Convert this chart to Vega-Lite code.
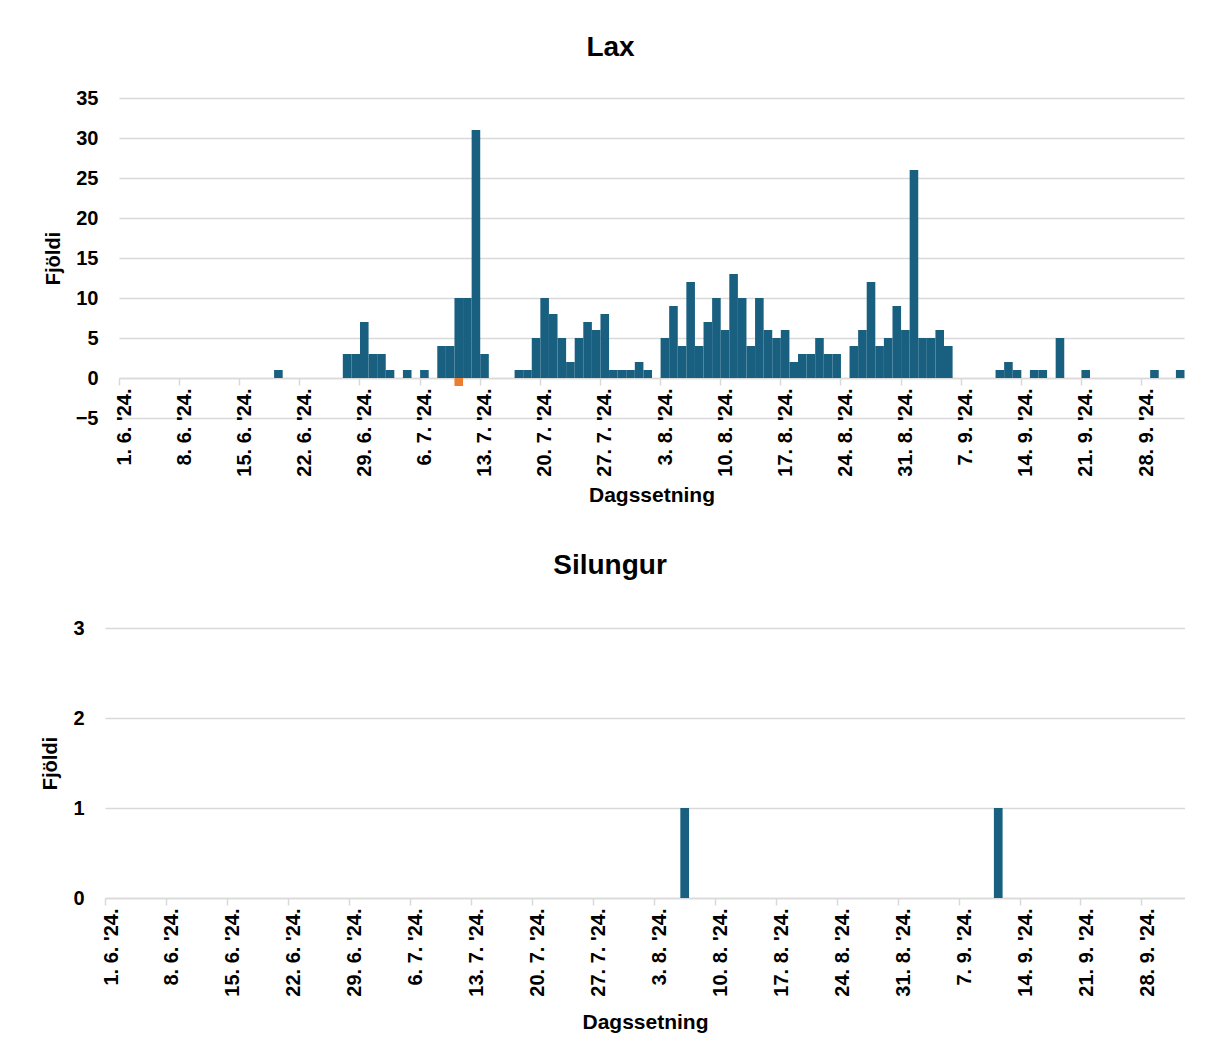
{
  "$schema": "https://vega.github.io/schema/vega-lite/v6.json",
  "background": "white",
  "autosize": {"type": "pad"},
  "padding": {"left": 40, "top": 34, "right": 0, "bottom": 0},
  "datasets": {
    "lax": [
      {"dags": "2024/06/19", "fjoldi": 1, "flokkur": "skráning"},
      {"dags": "2024/06/27", "fjoldi": 3, "flokkur": "skráning"},
      {"dags": "2024/06/28", "fjoldi": 3, "flokkur": "skráning"},
      {"dags": "2024/06/29", "fjoldi": 7, "flokkur": "skráning"},
      {"dags": "2024/06/30", "fjoldi": 3, "flokkur": "skráning"},
      {"dags": "2024/07/01", "fjoldi": 3, "flokkur": "skráning"},
      {"dags": "2024/07/02", "fjoldi": 1, "flokkur": "skráning"},
      {"dags": "2024/07/04", "fjoldi": 1, "flokkur": "skráning"},
      {"dags": "2024/07/06", "fjoldi": 1, "flokkur": "skráning"},
      {"dags": "2024/07/08", "fjoldi": 4, "flokkur": "skráning"},
      {"dags": "2024/07/09", "fjoldi": 4, "flokkur": "skráning"},
      {"dags": "2024/07/10", "fjoldi": 10, "flokkur": "skráning"},
      {"dags": "2024/07/10", "fjoldi": -1, "flokkur": "leiðrétting"},
      {"dags": "2024/07/11", "fjoldi": 10, "flokkur": "skráning"},
      {"dags": "2024/07/12", "fjoldi": 31, "flokkur": "skráning"},
      {"dags": "2024/07/13", "fjoldi": 3, "flokkur": "skráning"},
      {"dags": "2024/07/17", "fjoldi": 1, "flokkur": "skráning"},
      {"dags": "2024/07/18", "fjoldi": 1, "flokkur": "skráning"},
      {"dags": "2024/07/19", "fjoldi": 5, "flokkur": "skráning"},
      {"dags": "2024/07/20", "fjoldi": 10, "flokkur": "skráning"},
      {"dags": "2024/07/21", "fjoldi": 8, "flokkur": "skráning"},
      {"dags": "2024/07/22", "fjoldi": 5, "flokkur": "skráning"},
      {"dags": "2024/07/23", "fjoldi": 2, "flokkur": "skráning"},
      {"dags": "2024/07/24", "fjoldi": 5, "flokkur": "skráning"},
      {"dags": "2024/07/25", "fjoldi": 7, "flokkur": "skráning"},
      {"dags": "2024/07/26", "fjoldi": 6, "flokkur": "skráning"},
      {"dags": "2024/07/27", "fjoldi": 8, "flokkur": "skráning"},
      {"dags": "2024/07/28", "fjoldi": 1, "flokkur": "skráning"},
      {"dags": "2024/07/29", "fjoldi": 1, "flokkur": "skráning"},
      {"dags": "2024/07/30", "fjoldi": 1, "flokkur": "skráning"},
      {"dags": "2024/07/31", "fjoldi": 2, "flokkur": "skráning"},
      {"dags": "2024/08/01", "fjoldi": 1, "flokkur": "skráning"},
      {"dags": "2024/08/03", "fjoldi": 5, "flokkur": "skráning"},
      {"dags": "2024/08/04", "fjoldi": 9, "flokkur": "skráning"},
      {"dags": "2024/08/05", "fjoldi": 4, "flokkur": "skráning"},
      {"dags": "2024/08/06", "fjoldi": 12, "flokkur": "skráning"},
      {"dags": "2024/08/07", "fjoldi": 4, "flokkur": "skráning"},
      {"dags": "2024/08/08", "fjoldi": 7, "flokkur": "skráning"},
      {"dags": "2024/08/09", "fjoldi": 10, "flokkur": "skráning"},
      {"dags": "2024/08/10", "fjoldi": 6, "flokkur": "skráning"},
      {"dags": "2024/08/11", "fjoldi": 13, "flokkur": "skráning"},
      {"dags": "2024/08/12", "fjoldi": 10, "flokkur": "skráning"},
      {"dags": "2024/08/13", "fjoldi": 4, "flokkur": "skráning"},
      {"dags": "2024/08/14", "fjoldi": 10, "flokkur": "skráning"},
      {"dags": "2024/08/15", "fjoldi": 6, "flokkur": "skráning"},
      {"dags": "2024/08/16", "fjoldi": 5, "flokkur": "skráning"},
      {"dags": "2024/08/17", "fjoldi": 6, "flokkur": "skráning"},
      {"dags": "2024/08/18", "fjoldi": 2, "flokkur": "skráning"},
      {"dags": "2024/08/19", "fjoldi": 3, "flokkur": "skráning"},
      {"dags": "2024/08/20", "fjoldi": 3, "flokkur": "skráning"},
      {"dags": "2024/08/21", "fjoldi": 5, "flokkur": "skráning"},
      {"dags": "2024/08/22", "fjoldi": 3, "flokkur": "skráning"},
      {"dags": "2024/08/23", "fjoldi": 3, "flokkur": "skráning"},
      {"dags": "2024/08/25", "fjoldi": 4, "flokkur": "skráning"},
      {"dags": "2024/08/26", "fjoldi": 6, "flokkur": "skráning"},
      {"dags": "2024/08/27", "fjoldi": 12, "flokkur": "skráning"},
      {"dags": "2024/08/28", "fjoldi": 4, "flokkur": "skráning"},
      {"dags": "2024/08/29", "fjoldi": 5, "flokkur": "skráning"},
      {"dags": "2024/08/30", "fjoldi": 9, "flokkur": "skráning"},
      {"dags": "2024/08/31", "fjoldi": 6, "flokkur": "skráning"},
      {"dags": "2024/09/01", "fjoldi": 26, "flokkur": "skráning"},
      {"dags": "2024/09/02", "fjoldi": 5, "flokkur": "skráning"},
      {"dags": "2024/09/03", "fjoldi": 5, "flokkur": "skráning"},
      {"dags": "2024/09/04", "fjoldi": 6, "flokkur": "skráning"},
      {"dags": "2024/09/05", "fjoldi": 4, "flokkur": "skráning"},
      {"dags": "2024/09/11", "fjoldi": 1, "flokkur": "skráning"},
      {"dags": "2024/09/12", "fjoldi": 2, "flokkur": "skráning"},
      {"dags": "2024/09/13", "fjoldi": 1, "flokkur": "skráning"},
      {"dags": "2024/09/15", "fjoldi": 1, "flokkur": "skráning"},
      {"dags": "2024/09/16", "fjoldi": 1, "flokkur": "skráning"},
      {"dags": "2024/09/18", "fjoldi": 5, "flokkur": "skráning"},
      {"dags": "2024/09/21", "fjoldi": 1, "flokkur": "skráning"},
      {"dags": "2024/09/29", "fjoldi": 1, "flokkur": "skráning"},
      {"dags": "2024/10/02", "fjoldi": 1, "flokkur": "skráning"}
    ],
    "silungur": [
      {"dags": "2024/08/06", "fjoldi": 1},
      {"dags": "2024/09/11", "fjoldi": 1}
    ]
  },
  "config": {
    "view": {"stroke": null},
    "font": "Liberation Sans",
    "concat": {"spacing": 46},
    "title": {"font": "Liberation Sans", "fontSize": 28, "fontWeight": "bold", "color": "#000000"},
    "axis": {
      "labelFont": "Liberation Sans",
      "labelFontWeight": "bold",
      "labelFontSize": 20,
      "labelColor": "#000000",
      "titleFont": "Liberation Sans",
      "titleFontWeight": "bold",
      "titleColor": "#000000",
      "gridColor": "#d9d9d9",
      "gridWidth": 1.5,
      "domainColor": "#d9d9d9",
      "domainWidth": 1.5,
      "tickColor": "#d9d9d9",
      "tickWidth": 1.5
    }
  },
  "vconcat": [
    {
      "title": {"text": "Lax", "dx": -34, "offset": 26},
      "width": 1079,
      "height": 320,
      "data": {"name": "lax"},
      "mark": {"type": "bar", "binSpacing": 0},
      "encoding": {
        "x": {
          "field": "dags",
          "type": "temporal",
          "timeUnit": "yearmonthdate",
          "scale": {
            "domain": [{"year": 2024, "month": 6, "date": 1}, {"year": 2024, "month": 10, "date": 3}],
            "range": [14, 1079]
          },
          "axis": {
            "values": [
              {"year": 2024, "month": 6, "date": 1}, {"year": 2024, "month": 6, "date": 8},
              {"year": 2024, "month": 6, "date": 15}, {"year": 2024, "month": 6, "date": 22},
              {"year": 2024, "month": 6, "date": 29}, {"year": 2024, "month": 7, "date": 6},
              {"year": 2024, "month": 7, "date": 13}, {"year": 2024, "month": 7, "date": 20},
              {"year": 2024, "month": 7, "date": 27}, {"year": 2024, "month": 8, "date": 3},
              {"year": 2024, "month": 8, "date": 10}, {"year": 2024, "month": 8, "date": 17},
              {"year": 2024, "month": 8, "date": 24}, {"year": 2024, "month": 8, "date": 31},
              {"year": 2024, "month": 9, "date": 7}, {"year": 2024, "month": 9, "date": 14},
              {"year": 2024, "month": 9, "date": 21}, {"year": 2024, "month": 9, "date": 28}
            ],
            "format": "%-d. %-m. '%y.",
            "offset": -40,
            "grid": false,
            "tickSize": 7,
            "labelPadding": 3,
            "labelAngle": 270,
            "labelOffset": 5,
            "labelFlush": false,
            "labelOverlap": false,
            "title": "Dagssetning",
            "titleFontSize": 21,
            "titlePadding": 8
          }
        },
        "y": {
          "field": "fjoldi",
          "type": "quantitative",
          "stack": null,
          "scale": {"domain": [-5, 35], "nice": false},
          "axis": {
            "values": [-5, 0, 5, 10, 15, 20, 25, 30, 35],
            "ticks": false,
            "tickSize": 0,
            "domain": false,
            "labelPadding": 7,
            "title": "Fjöldi",
            "titleFontSize": 20,
            "titlePadding": 12
          }
        },
        "color": {
          "field": "flokkur",
          "type": "nominal",
          "scale": {"domain": ["skráning", "leiðrétting"], "range": ["#185f80", "#ed7d31"]},
          "legend": null
        }
      }
    },
    {
      "title": {"text": "Silungur", "dx": -35, "offset": 38},
      "width": 1080,
      "height": 270,
      "data": {"name": "silungur"},
      "mark": {"type": "bar", "color": "#185f80", "binSpacing": 0},
      "encoding": {
        "x": {
          "field": "dags",
          "type": "temporal",
          "timeUnit": "yearmonthdate",
          "scale": {
            "domain": [{"year": 2024, "month": 6, "date": 1}, {"year": 2024, "month": 10, "date": 3}]
          },
          "axis": {
            "values": [
              {"year": 2024, "month": 6, "date": 1}, {"year": 2024, "month": 6, "date": 8},
              {"year": 2024, "month": 6, "date": 15}, {"year": 2024, "month": 6, "date": 22},
              {"year": 2024, "month": 6, "date": 29}, {"year": 2024, "month": 7, "date": 6},
              {"year": 2024, "month": 7, "date": 13}, {"year": 2024, "month": 7, "date": 20},
              {"year": 2024, "month": 7, "date": 27}, {"year": 2024, "month": 8, "date": 3},
              {"year": 2024, "month": 8, "date": 10}, {"year": 2024, "month": 8, "date": 17},
              {"year": 2024, "month": 8, "date": 24}, {"year": 2024, "month": 8, "date": 31},
              {"year": 2024, "month": 9, "date": 7}, {"year": 2024, "month": 9, "date": 14},
              {"year": 2024, "month": 9, "date": 21}, {"year": 2024, "month": 9, "date": 28}
            ],
            "format": "%-d. %-m. '%y.",
            "grid": false,
            "tickSize": 7,
            "labelPadding": 3,
            "labelAngle": 270,
            "labelOffset": 6,
            "labelFlush": false,
            "labelOverlap": false,
            "title": "Dagssetning",
            "titleFontSize": 21,
            "titlePadding": 15
          }
        },
        "y": {
          "field": "fjoldi",
          "type": "quantitative",
          "scale": {"domain": [0, 3], "nice": false},
          "axis": {
            "values": [0, 1, 2, 3],
            "ticks": false,
            "tickSize": 0,
            "domain": false,
            "labelPadding": 21,
            "title": "Fjöldi",
            "titleFontSize": 20,
            "titlePadding": 12
          }
        }
      }
    }
  ]
}
